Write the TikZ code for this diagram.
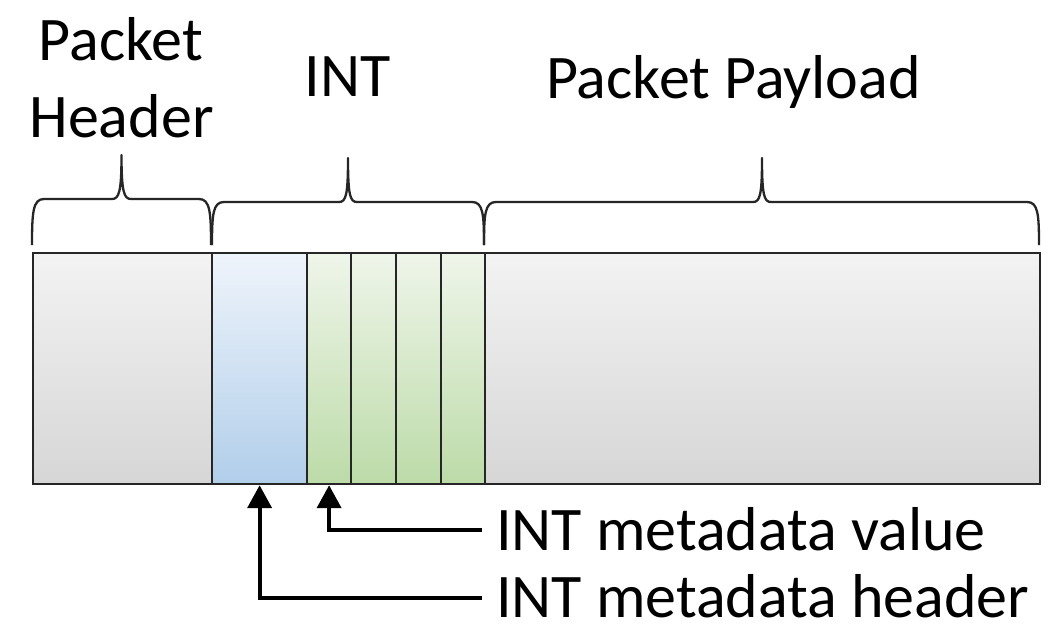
\documentclass[tikz,border=0pt]{standalone}
\usepackage{fontspec}
\setmainfont{Carlito}
\usetikzlibrary{arrows.meta}
\definecolor{grayTop}{HTML}{F3F3F3}
\definecolor{grayBot}{HTML}{D6D6D6}
\definecolor{blueTop}{HTML}{EFF4FB}
\definecolor{blueBot}{HTML}{B1CEEA}
\definecolor{greenTop}{HTML}{EFF5EA}
\definecolor{greenBot}{HTML}{BCDBA8}
\definecolor{edge}{HTML}{262626}
\begin{document}
\begin{tikzpicture}[x=1pt,y=-1pt,
  lbl/.style={font=\fontsize{62}{77}\selectfont, inner sep=0pt, anchor=base},
  cell/.style={draw=edge, line width=2.2pt, minimum height=231pt, inner sep=0pt, anchor=north west},
  graycell/.style={cell, top color=grayTop, bottom color=grayBot},
  bluecell/.style={cell, top color=blueTop, bottom color=blueBot},
  greencell/.style={cell, top color=greenTop, bottom color=greenBot},
  brace/.style={line width=2.3pt, line join=round, draw=edge},
  pointer/.style={line width=4pt, -{Triangle[width=24pt,length=23pt]}},
]
\useasboundingbox (0,0) rectangle (1051,626);

% packet cells
\node[graycell, minimum width=179pt] (hdr) at (32,252) {};
\node[bluecell, minimum width=95pt] (blue) at (211,252) {};
\node[greencell, minimum width=44pt] (g1) at (306,252) {};
\node[greencell, minimum width=45pt] (g2) at (350,252) {};
\node[greencell, minimum width=45pt] (g3) at (395,252) {};
\node[greencell, minimum width=44pt] (g4) at (440,252) {};
\node[graycell, minimum width=555pt] (pay) at (484,252) {};

% braces over the three parts
\draw[brace] (32,245) .. controls (32,212) and (33,199) .. (44,199) -- (112,199)
  .. controls (119,199) and (121.5,192) .. (121.5,155)
  .. controls (121.5,192) and (124,199) .. (131,199) -- (199,199)
  .. controls (210,199) and (211,212) .. (211,245);
\draw[brace] (212,245) .. controls (212,214) and (213,202) .. (224,202) -- (339,202)
  .. controls (346,202) and (348,195) .. (348,158)
  .. controls (348,195) and (350,202) .. (357,202) -- (472,202)
  .. controls (483,202) and (484,214) .. (484,245);
\draw[brace] (484,245) .. controls (484,214) and (485,202) .. (496,202) -- (753,202)
  .. controls (760,202) and (762,195) .. (762,158)
  .. controls (762,195) and (764,202) .. (771,202) -- (1027,202)
  .. controls (1038,202) and (1039,214) .. (1039,245);

% part labels
\node[lbl] (lhdr1) at (121,60) {Packet};
\node[lbl] (lhdr2) at (121.5,137) {Header};
\node[lbl] (lint) at (347.5,96) {INT};
\node[lbl] (lpay) at (733.5,98) {Packet Payload};

% metadata pointers
\node[lbl, anchor=base west] (lval) at (496,550) {INT metadata value};
\node[lbl, anchor=base west] (lmh) at (496,617) {INT metadata header};
\coordinate (vfrom) at (482,530);
\coordinate (hfrom) at (482,598);
\draw[pointer] (vfrom) -| (g1.south);
\draw[pointer] (hfrom) -| (blue.south);
\end{tikzpicture}
\end{document}
